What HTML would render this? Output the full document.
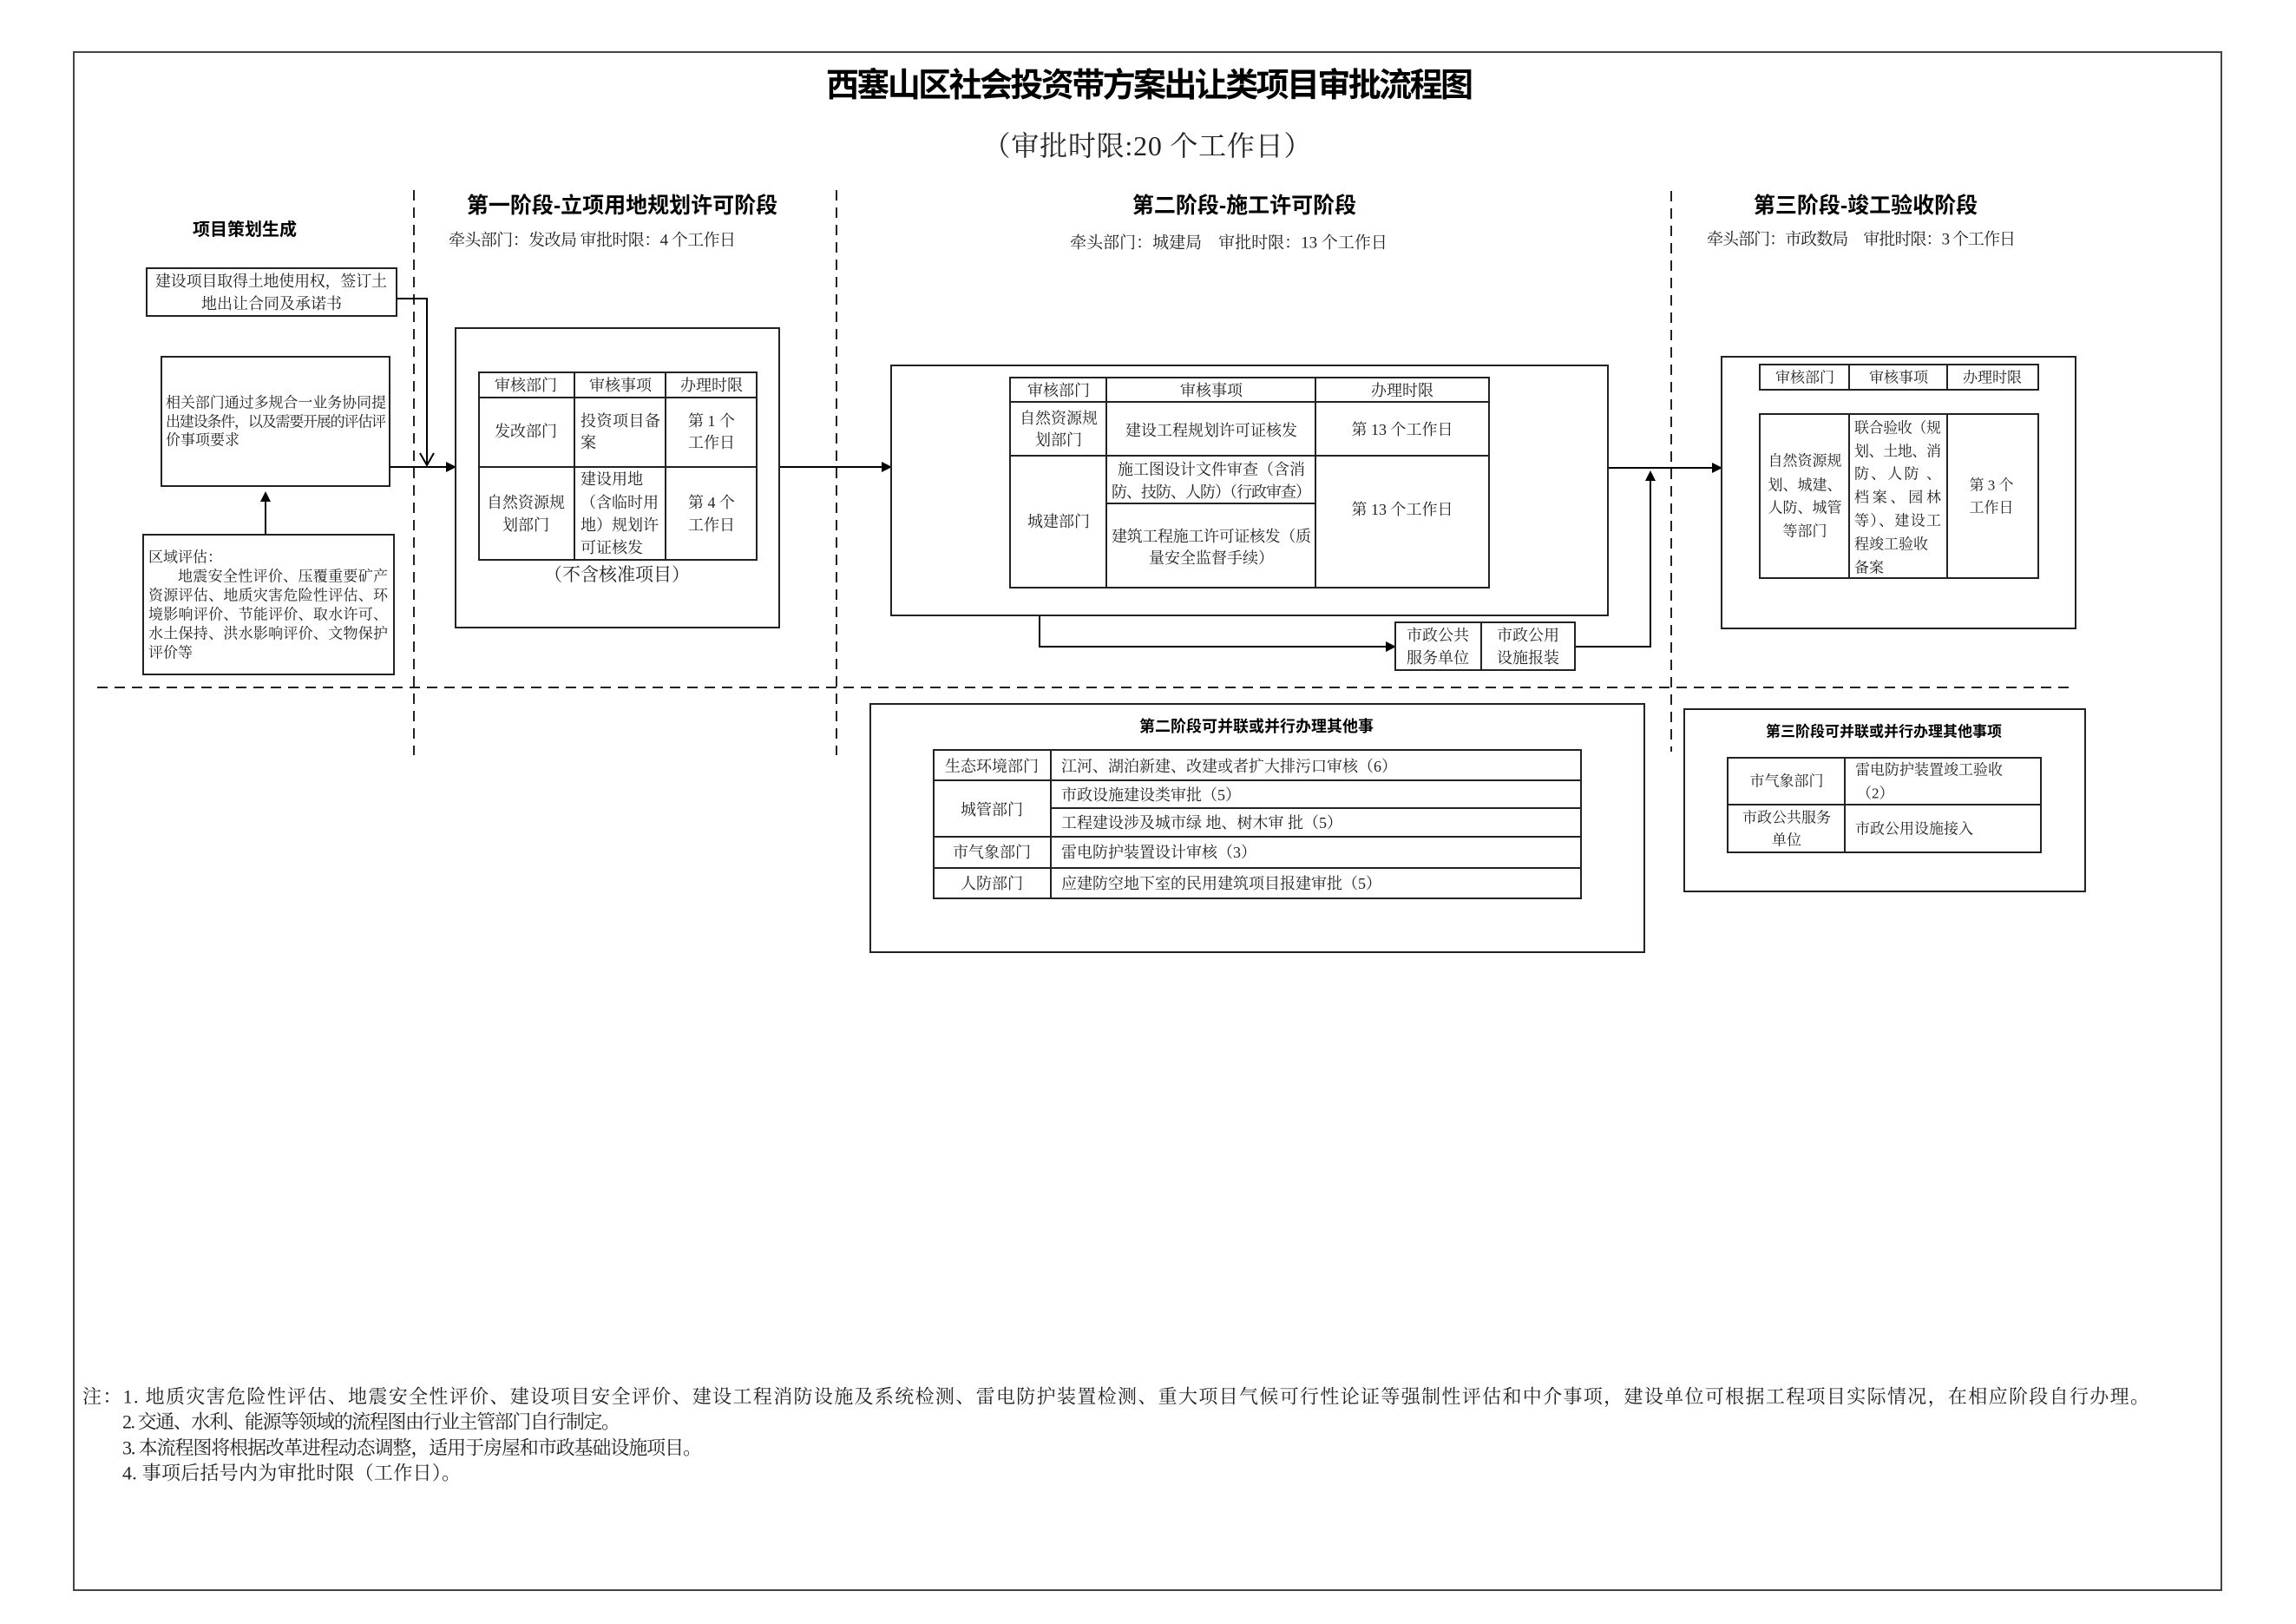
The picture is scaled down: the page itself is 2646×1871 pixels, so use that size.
<!DOCTYPE html>
<html><head><meta charset="utf-8"><style>
html,body{margin:0;padding:0;background:#fff}
svg{display:block}
text{font-family:"Liberation Serif","Noto Serif CJK SC",serif;fill:#222}
.b{font-family:"Liberation Sans","Noto Sans CJK SC",sans-serif;font-weight:bold;fill:#000}
.c{text-anchor:middle}
</style></head><body>
<svg width="2646" height="1871" viewBox="0 0 2646 1871" xmlns="http://www.w3.org/2000/svg">
<defs>
<marker id="a" markerWidth="12" markerHeight="12" refX="10" refY="6" orient="auto" markerUnits="userSpaceOnUse"><path d="M0,0 L12,6 L0,12 z" fill="#000"/></marker>
</defs>
<g dominant-baseline="central" font-size="18">
<!-- outer border -->
<rect x="85" y="60" width="2475" height="1772" fill="none" stroke="#444" stroke-width="2"/>
<!-- titles -->
<text class="b c" x="1325" y="99" font-size="38" textLength="746">西塞山区社会投资带方案出让类项目审批流程图</text>
<text class="c" x="1322" y="168" font-size="32" textLength="379">（审批时限:20 个工作日）</text>

<!-- dashed lines -->
<g stroke="#222" stroke-width="2" stroke-dasharray="12,8" fill="none">
<line x1="477" y1="219" x2="477" y2="870"/>
<line x1="964" y1="219" x2="964" y2="870"/>
<line x1="1926" y1="220" x2="1926" y2="866"/>
<line x1="112" y1="792" x2="2392" y2="792"/>
</g>

<!-- left column -->
<text class="b c" x="282" y="265" font-size="20">项目策划生成</text>
<g fill="none" stroke="#222" stroke-width="2">
<rect x="169" y="309" width="288" height="55"/>
<rect x="186" y="411" width="263" height="149"/>
<rect x="165" y="616" width="289" height="161"/>
</g>
<text x="179" y="324" font-size="18" textLength="267">建设项目取得土地使用权，签订土</text>
<text class="c" x="313" y="350" font-size="18">地出让合同及承诺书</text>
<text x="191" y="464" font-size="17" textLength="254">相关部门通过多规合一业务协同提</text>
<text x="191" y="486" font-size="17" textLength="254">出建设条件，以及需要开展的评估评</text>
<text x="191" y="507" font-size="17">价事项要求</text>
<text x="171" y="642" font-size="17">区域评估：</text>
<text x="205" y="664" font-size="17" textLength="242">地震安全性评价、压覆重要矿产</text>
<text x="171" y="686" font-size="17" textLength="276">资源评估、地质灾害危险性评估、环</text>
<text x="171" y="708" font-size="17" textLength="276">境影响评价、节能评价、取水许可、</text>
<text x="171" y="730" font-size="17" textLength="276">水土保持、洪水影响评价、文物保护</text>
<text x="171" y="752" font-size="17">评价等</text>

<!-- connectors -->
<g stroke="#000" stroke-width="2" fill="none">
<line x1="306" y1="616" x2="306" y2="568" marker-end="url(#a)"/>
<line x1="449" y1="538" x2="524" y2="538" marker-end="url(#a)"/>
<polyline points="457,344 492,344 492,536"/>
<polyline points="484,522 492,536 500,522"/>
<line x1="898" y1="538" x2="1026" y2="538" marker-end="url(#a)"/>
<line x1="1853" y1="539" x2="1983" y2="539" marker-end="url(#a)"/>
<polyline points="1198,709 1198,745 1607,745" marker-end="url(#a)"/>
<polyline points="1815,745 1902,745 1902,544" marker-end="url(#a)"/>
</g>

<!-- phase 1 -->
<text class="b c" x="717" y="237" font-size="25">第一阶段-立项用地规划许可阶段</text>
<text x="517" y="277" font-size="19" textLength="331">牵头部门：发改局 审批时限：4 个工作日</text>
<g fill="none" stroke="#222" stroke-width="2">
<rect x="525" y="378" width="373" height="345"/>
<rect x="552" y="429" width="320" height="216"/>
<line x1="552" y1="458" x2="872" y2="458"/>
<line x1="552" y1="538" x2="872" y2="538"/>
<line x1="662" y1="429" x2="662" y2="645"/>
<line x1="767" y1="429" x2="767" y2="645"/>
</g>
<text class="c" x="606" y="444">审核部门</text>
<text class="c" x="715" y="444">审核事项</text>
<text class="c" x="820" y="444">办理时限</text>
<text class="c" x="606" y="497">发改部门</text>
<text x="669" y="485" textLength="92">投资项目备</text>
<text x="669" y="510">案</text>
<text class="c" x="820" y="485">第 1 个</text>
<text class="c" x="820" y="510">工作日</text>
<text class="c" x="606" y="579">自然资源规</text>
<text class="c" x="606" y="605">划部门</text>
<text x="669" y="552">建设用地</text>
<text x="669" y="579">（含临时用</text>
<text x="669" y="605">地）规划许</text>
<text x="669" y="631">可证核发</text>
<text class="c" x="820" y="579">第 4 个</text>
<text class="c" x="820" y="605">工作日</text>
<text class="c" x="711" y="662" font-size="21">（不含核准项目）</text>

<!-- phase 2 -->
<text class="b c" x="1434" y="237" font-size="25">第二阶段-施工许可阶段</text>
<text class="c" x="1416" y="280" font-size="19">牵头部门：城建局　审批时限：13 个工作日</text>
<g fill="none" stroke="#222" stroke-width="2">
<rect x="1027" y="421" width="826" height="288"/>
<rect x="1164" y="435" width="552" height="242"/>
<line x1="1164" y1="463" x2="1716" y2="463"/>
<line x1="1164" y1="525" x2="1716" y2="525"/>
<line x1="1275" y1="580" x2="1516" y2="580"/>
<line x1="1275" y1="435" x2="1275" y2="677"/>
<line x1="1516" y1="435" x2="1516" y2="677"/>
<rect x="1608" y="717" width="207" height="55"/>
<line x1="1707" y1="717" x2="1707" y2="772"/>
</g>
<text class="c" x="1220" y="450">审核部门</text>
<text class="c" x="1396" y="450">审核事项</text>
<text class="c" x="1616" y="450">办理时限</text>
<text class="c" x="1220" y="482">自然资源规</text>
<text class="c" x="1220" y="507">划部门</text>
<text class="c" x="1396" y="496">建设工程规划许可证核发</text>
<text class="c" x="1616" y="495">第 13 个工作日</text>
<text class="c" x="1220" y="601">城建部门</text>
<text class="c" x="1396" y="541">施工图设计文件审查（含消</text>
<text class="c" x="1396" y="567" textLength="230">防、技防、人防）（行政审查）</text>
<text class="c" x="1396" y="618" textLength="230">建筑工程施工许可证核发（质</text>
<text class="c" x="1396" y="643">量安全监督手续）</text>
<text class="c" x="1616" y="587">第 13 个工作日</text>
<text class="c" x="1657" y="732">市政公共</text>
<text class="c" x="1657" y="758">服务单位</text>
<text class="c" x="1761" y="732">市政公用</text>
<text class="c" x="1761" y="758">设施报装</text>

<!-- phase 3 -->
<text class="b c" x="2150" y="237" font-size="25">第三阶段-竣工验收阶段</text>
<text x="1967" y="276" font-size="19" textLength="356">牵头部门：市政数局　审批时限：3 个工作日</text>
<g fill="none" stroke="#222" stroke-width="2">
<rect x="1984" y="411" width="408" height="313"/>
<rect x="2028" y="420" width="321" height="29"/>
<line x1="2131" y1="420" x2="2131" y2="449"/>
<line x1="2244" y1="420" x2="2244" y2="449"/>
<rect x="2028" y="477" width="321" height="189"/>
<line x1="2131" y1="477" x2="2131" y2="666"/>
<line x1="2244" y1="477" x2="2244" y2="666"/>
</g>
<text class="c" x="2080" y="435" font-size="17">审核部门</text>
<text class="c" x="2188" y="435" font-size="17">审核事项</text>
<text class="c" x="2296" y="435" font-size="17">办理时限</text>
<text class="c" x="2080" y="531" font-size="17">自然资源规</text>
<text class="c" x="2080" y="559" font-size="17">划、城建、</text>
<text class="c" x="2080" y="585" font-size="17">人防、城管</text>
<text class="c" x="2080" y="612" font-size="17">等部门</text>
<text x="2137" y="493" font-size="17" textLength="100">联合验收（规</text>
<text x="2137" y="520" font-size="17" textLength="100">划、土地、消</text>
<text x="2137" y="546" font-size="17" textLength="100">防、人防 、</text>
<text x="2137" y="573" font-size="17" textLength="100">档案、园林</text>
<text x="2137" y="600" font-size="17" textLength="100">等）、建设工</text>
<text x="2137" y="627" font-size="17">程竣工验收</text>
<text x="2137" y="654" font-size="17">备案</text>
<text class="c" x="2295" y="559" font-size="17">第 3 个</text>
<text class="c" x="2295" y="585" font-size="17">工作日</text>

<!-- phase 2 parallel -->
<g fill="none" stroke="#222" stroke-width="2">
<rect x="1003" y="811" width="892" height="286"/>
<rect x="1076" y="864" width="746" height="171"/>
<line x1="1076" y1="899" x2="1822" y2="899"/>
<line x1="1211" y1="931" x2="1822" y2="931"/>
<line x1="1076" y1="964" x2="1822" y2="964"/>
<line x1="1076" y1="1000" x2="1822" y2="1000"/>
<line x1="1211" y1="864" x2="1211" y2="1035"/>
</g>
<text class="b c" x="1448" y="837" font-size="18">第二阶段可并联或并行办理其他事</text>
<text class="c" x="1143" y="883">生态环境部门</text>
<text x="1223" y="883">江河、湖泊新建、改建或者扩大排污口审核（6）</text>
<text class="c" x="1143" y="933">城管部门</text>
<text x="1223" y="916">市政设施建设类审批（5）</text>
<text x="1223" y="948">工程建设涉及城市绿 地、树木审 批（5）</text>
<text class="c" x="1143" y="982">市气象部门</text>
<text x="1223" y="982">雷电防护装置设计审核（3）</text>
<text class="c" x="1143" y="1018">人防部门</text>
<text x="1223" y="1018">应建防空地下室的民用建筑项目报建审批（5）</text>

<!-- phase 3 parallel -->
<g fill="none" stroke="#222" stroke-width="2">
<rect x="1941" y="817" width="462" height="210"/>
<rect x="1991" y="873" width="361" height="109"/>
<line x1="1991" y1="927" x2="2352" y2="927"/>
<line x1="2126" y1="873" x2="2126" y2="982"/>
</g>
<text class="b c" x="2171" y="843" font-size="17">第三阶段可并联或并行办理其他事项</text>
<text class="c" x="2059" y="900" font-size="17">市气象部门</text>
<text x="2138" y="887" font-size="17">雷电防护装置竣工验收</text>
<text x="2140" y="914" font-size="17">（2）</text>
<text class="c" x="2059" y="942" font-size="17">市政公共服务</text>
<text class="c" x="2059" y="968" font-size="17">单位</text>
<text x="2138" y="955" font-size="17">市政公用设施接入</text>

<!-- notes -->
<text x="95" y="1609" font-size="22" textLength="2382">注：1. 地质灾害危险性评估、地震安全性评价、建设项目安全评价、建设工程消防设施及系统检测、雷电防护装置检测、重大项目气候可行性论证等强制性评估和中介事项，建设单位可根据工程项目实际情况，在相应阶段自行办理。</text>
<text x="141" y="1638" font-size="22" textLength="574">2. 交通、水利、能源等领域的流程图由行业主管部门自行制定。</text>
<text x="141" y="1668" font-size="22" textLength="668">3. 本流程图将根据改革进程动态调整，适用于房屋和市政基础设施项目。</text>
<text x="141" y="1697" font-size="22" textLength="390">4. 事项后括号内为审批时限（工作日）。</text>
</g>
</svg>
</body></html>
